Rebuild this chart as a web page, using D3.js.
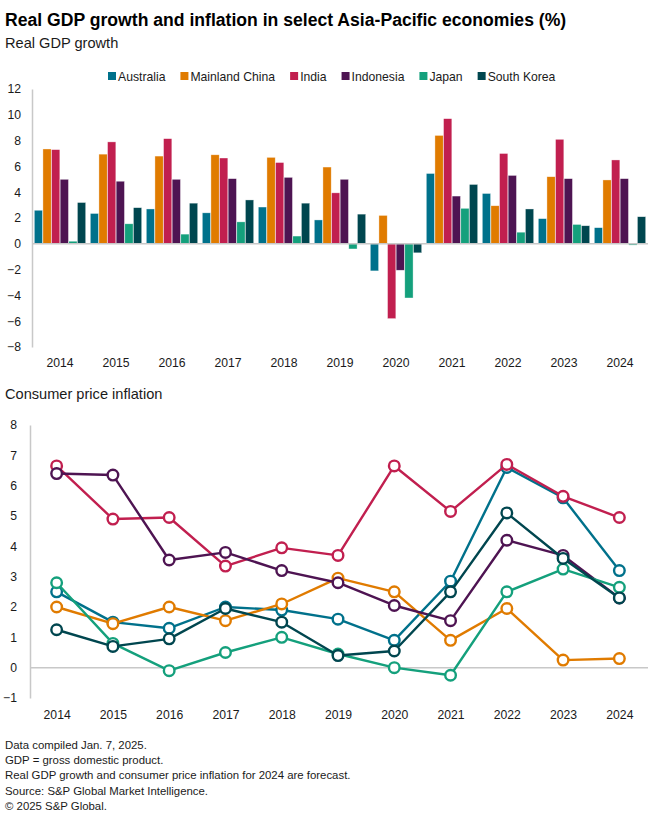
<!DOCTYPE html>
<html>
<head>
<meta charset="utf-8">
<script src="https://cdn.jsdelivr.net/npm/d3@7"></script>
<style>
  html, body { margin: 0; padding: 0; background: #fff; }
  svg { display: block; font-family: "Liberation Sans", Arial, sans-serif; }
</style>
</head>
<body>
<svg id="chart" width="660" height="823"></svg>
<script>
// ---------- DATA ----------
const years = ["2014","2015","2016","2017","2018","2019","2020","2021","2022","2023","2024"];
const countries = ["Australia","Mainland China","India","Indonesia","Japan","South Korea"];
const colors = ["#00718b","#e07b00","#c11f4f","#4e1452","#14a07c","#00464f"];

// Real GDP growth (%)
const gdpAustralia = [2.6, 2.35, 2.7, 2.4, 2.85, 1.85, -2.1, 5.45, 3.9, 1.95, 1.25];
const gdpChina     = [7.35, 6.95, 6.8, 6.9, 6.7, 5.95, 2.2, 8.4, 2.95, 5.2, 4.95];
const gdpIndia     = [7.3, 7.9, 8.15, 6.65, 6.3, 3.95, -5.8, 9.7, 7.0, 8.1, 6.5];
const gdpIndonesia = [5.0, 4.85, 5.0, 5.05, 5.15, 5.0, -2.05, 3.7, 5.3, 5.05, 5.05];
const gdpJapan     = [0.2, 1.55, 0.75, 1.7, 0.6, -0.4, -4.2, 2.75, 0.9, 1.5, -0.1];
const gdpKorea     = [3.2, 2.8, 3.15, 3.4, 3.15, 2.3, -0.7, 4.6, 2.7, 1.4, 2.1];

// Consumer price inflation (%)
const cpiAustralia = [2.5, 1.5, 1.3, 2.0, 1.9, 1.6, 0.9, 2.85, 6.6, 5.6, 3.2];
const cpiChina     = [2.0, 1.45, 2.0, 1.55, 2.1, 2.95, 2.5, 0.9, 1.95, 0.25, 0.3];
const cpiIndia     = [6.65, 4.9, 4.95, 3.35, 3.95, 3.7, 6.65, 5.15, 6.7, 5.65, 4.95];
const cpiIndonesia = [6.4, 6.35, 3.55, 3.8, 3.2, 2.8, 2.05, 1.55, 4.2, 3.7, 2.3];
const cpiJapan     = [2.8, 0.8, -0.1, 0.5, 1.0, 0.45, 0.0, -0.25, 2.5, 3.25, 2.65];
const cpiKorea     = [1.25, 0.7, 0.95, 1.95, 1.5, 0.4, 0.55, 2.5, 5.1, 3.6, 2.3];

const gdpTicks = [-8,-6,-4,-2,0,2,4,6,8,10,12];
const cpiTicks = [-1,0,1,2,3,4,5,6,7,8];

const title = "Real GDP growth and inflation in select Asia-Pacific economies (%)";
const subtitle1 = "Real GDP growth";
const subtitle2 = "Consumer price inflation";
const footnotes = [
  "Data compiled Jan. 7, 2025.",
  "GDP = gross domestic product.",
  "Real GDP growth and consumer price inflation for 2024 are forecast.",
  "Source: S&P Global Market Intelligence.",
  "\u00A9 2025 S&P Global."
];

const gdpSeries = [gdpAustralia, gdpChina, gdpIndia, gdpIndonesia, gdpJapan, gdpKorea];
const cpiSeries = [cpiAustralia, cpiChina, cpiIndia, cpiIndonesia, cpiJapan, cpiKorea];

// ---------- DRAW ----------
const svg = d3.select("#chart");
const textColor = "#1a1a1a";
const axisGray = "#c8c8c8";

svg.append("text").attr("x", 5).attr("y", 26)
  .attr("font-size", 17.6).attr("font-weight", "bold").attr("fill", "#000")
  .text(title);
svg.append("text").attr("x", 5).attr("y", 48)
  .attr("font-size", 14.6).attr("fill", textColor)
  .text(subtitle1);

// ----- Legend -----
const legend = svg.append("g");
let lx = 108;
countries.forEach((c, i) => {
  const g = legend.append("g").attr("transform", `translate(${lx},0)`);
  g.append("rect").attr("x", 0).attr("y", 72).attr("width", 8).attr("height", 8).attr("fill", colors[i]);
  const t = g.append("text").attr("x", 10).attr("y", 80.5).attr("font-size", 12.2).attr("fill", textColor).text(c);
  lx += 10 + t.node().getComputedTextLength() + 15;
});

// ----- Bar chart -----
const y1 = d3.scaleLinear().domain([-8, 12]).range([347, 89]);
const x0 = d3.scaleBand().domain(years).range([32, 648]).paddingInner(0.07).paddingOuter(0.035);
const x1 = d3.scaleBand().domain(countries).range([0, x0.bandwidth()]).padding(0.04);

// y axis
const yAxis1 = svg.append("g").attr("transform", "translate(32,0)")
  .call(d3.axisLeft(y1).tickValues(gdpTicks).tickSize(0).tickPadding(11));
yAxis1.select(".domain").attr("stroke", axisGray).attr("stroke-width", 1.5);
yAxis1.selectAll("text").attr("font-size", 12.2).attr("fill", textColor).attr("font-family", "Liberation Sans, Arial, sans-serif");

// x axis labels
const xAxis1 = svg.append("g").attr("transform", "translate(0,347)")
  .call(d3.axisBottom(x0).tickSize(0).tickPadding(11));
xAxis1.select(".domain").remove();
xAxis1.selectAll("text").attr("font-size", 12.2).attr("fill", textColor).attr("font-family", "Liberation Sans, Arial, sans-serif");

const groups = svg.append("g").selectAll("g").data(years).join("g")
  .attr("transform", d => `translate(${x0(d)},0)`);
groups.selectAll("rect")
  .data((yr, yi) => countries.map((c, ci) => ({ c, ci, v: gdpSeries[ci][yi] })))
  .join("rect")
  .attr("x", d => x1(d.c))
  .attr("width", x1.bandwidth())
  .attr("y", d => Math.min(y1(d.v), y1(0)))
  .attr("height", d => Math.abs(y1(d.v) - y1(0)))
  .attr("fill", d => colors[d.ci])
  .attr("stroke", "#fff").attr("stroke-opacity", 0.6).attr("stroke-width", 0.6);

// zero line
svg.append("line").attr("x1", 32).attr("x2", 648).attr("y1", y1(0)).attr("y2", y1(0))
  .attr("stroke", axisGray).attr("stroke-width", 1.5);

// ----- Line chart -----
svg.append("text").attr("x", 5).attr("y", 399)
  .attr("font-size", 14.6).attr("fill", textColor)
  .text(subtitle2);

const y2 = d3.scaleLinear().domain([-1, 8]).range([698, 425]);
const x2 = d3.scalePoint().domain(years).range([28.5, 647.5]).padding(0.5);

const yAxis2 = svg.append("g").attr("transform", "translate(30,0)")
  .call(d3.axisLeft(y2).tickValues(cpiTicks).tickSize(0).tickPadding(13));
yAxis2.select(".domain").attr("stroke", axisGray).attr("stroke-width", 1.5);
yAxis2.selectAll("text").attr("font-size", 12.2).attr("fill", textColor).attr("font-family", "Liberation Sans, Arial, sans-serif");

const xAxis2 = svg.append("g").attr("transform", "translate(0,698)")
  .call(d3.axisBottom(x2).tickSize(0).tickPadding(12));
xAxis2.select(".domain").remove();
xAxis2.selectAll("text").attr("font-size", 12.2).attr("fill", textColor).attr("font-family", "Liberation Sans, Arial, sans-serif");

svg.append("line").attr("x1", 30).attr("x2", 648).attr("y1", y2(0)).attr("y2", y2(0))
  .attr("stroke", axisGray).attr("stroke-width", 1.5);

const line = d3.line().x((d, i) => x2(years[i])).y(d => y2(d));
cpiSeries.forEach((s, ci) => {
  const g = svg.append("g");
  g.append("path").attr("d", line(s)).attr("fill", "none")
    .attr("stroke", colors[ci]).attr("stroke-width", 2.4).attr("stroke-linejoin", "round");
  g.selectAll("circle").data(s).join("circle")
    .attr("cx", (d, i) => x2(years[i])).attr("cy", d => y2(d)).attr("r", 5.3)
    .attr("fill", "#fff").attr("stroke", colors[ci]).attr("stroke-width", 2.4);
});

// ----- Footnotes -----
svg.append("g").selectAll("text").data(footnotes).join("text")
  .attr("x", 5).attr("y", (d, i) => 749 + i * 15.2)
  .attr("font-size", 11.4).attr("fill", textColor)
  .text(d => d);
</script>
</body>
</html>
